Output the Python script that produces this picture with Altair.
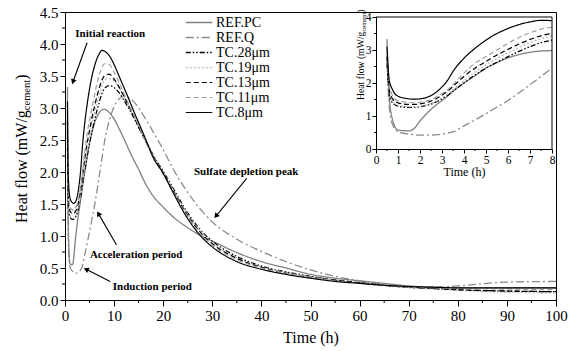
import math
import altair as alt
import pandas as pd

# ---------------- data ----------------
TIME = [0.5, 0.6, 0.75, 1, 1.5, 1.75, 2, 2.5, 3, 3.25, 3.5, 4, 4.5, 5, 5.5, 6, 6.5, 7, 7.5, 8,
        9, 10, 11, 12, 13, 14, 15, 16.5, 18, 20, 22, 25, 28, 30, 35, 40, 45, 50, 55, 60,
        65, 70, 75, 80, 90, 100]

REF_PC = [3.33, 1.6, 0.9, 0.57, 0.55, 0.63, 0.85, 1.2, 1.47, 1.6, 1.75, 2.0, 2.22, 2.45, 2.62, 2.76, 2.86, 2.93, 2.97, 2.98,
          2.93, 2.83, 2.68, 2.52, 2.35, 2.19, 2.04, 1.8, 1.62, 1.45, 1.3, 1.13, 0.99, 0.92, 0.74, 0.6, 0.5, 0.4, 0.34, 0.3,
          0.26, 0.22, 0.2, 0.19, 0.19, 0.19]
REF_Q = [2.8, 1.3, 0.75, 0.52, 0.45, 0.43, 0.42, 0.42, 0.45, 0.48, 0.52, 0.7, 0.88, 1.07, 1.27, 1.47, 1.7, 1.95, 2.2, 2.45,
         2.8, 3.02, 3.14, 3.18, 3.16, 3.1, 3.0, 2.82, 2.62, 2.35, 2.05, 1.68, 1.38, 1.22, 0.95, 0.76, 0.6, 0.47, 0.37, 0.3,
         0.25, 0.21, 0.2, 0.22, 0.28, 0.29]
TC_28 = [2.6, 1.65, 1.4, 1.3, 1.26, 1.26, 1.28, 1.36, 1.52, 1.62, 1.75, 2.0, 2.24, 2.45, 2.63, 2.8, 2.96, 3.1, 3.22, 3.3,
         3.35, 3.32, 3.24, 3.12, 2.99, 2.85, 2.7, 2.48, 2.26, 2.01, 1.75, 1.36, 1.06, 0.92, 0.68, 0.53, 0.44, 0.37, 0.31, 0.27,
         0.23, 0.2, 0.18, 0.16, 0.14, 0.13]
TC_19 = [2.7, 1.7, 1.45, 1.33, 1.28, 1.28, 1.3, 1.38, 1.55, 1.66, 1.8, 2.08, 2.33, 2.55, 2.75, 2.92, 3.08, 3.22, 3.34, 3.43,
         3.46, 3.42, 3.32, 3.18, 3.03, 2.88, 2.72, 2.49, 2.26, 2.0, 1.73, 1.34, 1.04, 0.9, 0.66, 0.52, 0.43, 0.36, 0.31, 0.26,
         0.22, 0.19, 0.17, 0.15, 0.12, 0.11]
TC_13 = [2.8, 1.8, 1.52, 1.4, 1.35, 1.35, 1.37, 1.45, 1.63, 1.75, 1.9, 2.2, 2.45, 2.65, 2.85, 3.02, 3.18, 3.32, 3.43, 3.5,
         3.53, 3.45, 3.33, 3.18, 3.03, 2.87, 2.7, 2.47, 2.24, 1.98, 1.71, 1.32, 1.02, 0.88, 0.65, 0.51, 0.42, 0.36, 0.31, 0.27,
         0.23, 0.2, 0.18, 0.16, 0.14, 0.13]
TC_11 = [2.95, 1.95, 1.62, 1.46, 1.41, 1.4, 1.42, 1.5, 1.68, 1.79, 1.95, 2.3, 2.6, 2.8, 3.0, 3.2, 3.38, 3.52, 3.63, 3.69,
         3.68, 3.56, 3.4, 3.23, 3.06, 2.89, 2.72, 2.47, 2.23, 1.97, 1.7, 1.3, 1.0, 0.86, 0.63, 0.5, 0.42, 0.36, 0.3, 0.26,
         0.23, 0.2, 0.19, 0.18, 0.17, 0.16]
TC_8 = [3.1, 2.1, 1.8, 1.6, 1.52, 1.51, 1.52, 1.62, 1.88, 2.08, 2.35, 2.75, 3.05, 3.3, 3.5, 3.65, 3.77, 3.85, 3.9, 3.89,
        3.82, 3.68, 3.5, 3.32, 3.14, 2.95, 2.77, 2.5, 2.22, 1.98, 1.68, 1.27, 0.97, 0.83, 0.6, 0.48, 0.4, 0.34, 0.29, 0.26,
        0.23, 0.21, 0.2, 0.19, 0.19, 0.19]

SERIES = ["REF.PC", "REF.Q", "TC.28μm", "TC.19μm", "TC.13μm", "TC.11μm", "TC.8μm"]
VALUES = [REF_PC, REF_Q, TC_28, TC_19, TC_13, TC_11, TC_8]

X_MAJOR = list(range(0, 101, 10))
X_MINOR = list(range(5, 100, 10))
Y_MAJOR = [i * 0.5 for i in range(10)]
Y_MINOR = [0.25 + i * 0.5 for i in range(9)]
IX_MAJOR = list(range(0, 9))
IX_MINOR = [0.5 + i for i in range(8)]
IY_MAJOR = list(range(0, 5))
IY_MINOR = [0.5 + i for i in range(4)]

ANN_TEXT = ["Initial reaction", "Sulfate depletion peak", "Acceleration period", "Induction period"]
ANN_T = [9.2, 36.9, 14.5, 17.8]
ANN_V = [4.16, 2.0, 0.70, 0.21]
ARROW_T0 = [4.5, 37.0, 10.5, 9.2]
ARROW_V0 = [4.02, 1.90, 0.86, 0.29]
ARROW_T1 = [1.63, 30.75, 6.8, 4.3]
ARROW_V1 = [3.41, 1.31, 1.35, 0.48]

# ---------------- style ----------------
COLORS = ["#808080", "#8a8a8a", "#000000", "#b8b8b8", "#000000", "#a0a0a0", "#000000"]
DASHES = [[1, 0], [8, 3, 2, 3], [5, 2, 1.5, 2, 1.5, 2], [2, 2], [5, 3], [5, 3], [1, 0]]
WIDTHS = [1.3, 1.2, 1.3, 1.4, 1.4, 1.3, 1.6]
FONT = "Liberation Serif"
W, H = 491, 288
IX0, IX1, IY0, IY1 = 311, 487, 137, 5   # inset pixel range inside plot area

rows = []
for name, vals in zip(SERIES, VALUES):
    for t, v in zip(TIME, vals):
        rows.append({"t": t, "v": v, "series": name})
df = pd.DataFrame(rows)
df_in = df[df["t"] <= 8].copy()

legend = alt.Legend(title=None, orient="none", legendX=120, legendY=3, symbolType="stroke",
                    symbolSize=700, symbolStrokeWidth=1.4, clipHeight=15, rowPadding=0,
                    labelFont=FONT, labelFontSize=14, labelColor="black", labelOffset=3, padding=0)
color = alt.Color("series:N", scale=alt.Scale(domain=SERIES, range=COLORS), legend=legend)
dash = alt.StrokeDash("series:N", scale=alt.Scale(domain=SERIES, range=DASHES), legend=legend)
swidth = alt.StrokeWidth("series:N", scale=alt.Scale(domain=SERIES, range=WIDTHS), legend=None)

common_axis = dict(grid=False, domainColor="black", tickColor="black", labelColor="black",
                   titleColor="black", labelFont=FONT, titleFont=FONT, titleFontWeight=400,
                   labelFlush=False, labelOverlap=False)

MXS = dict(domain=[0, 100], nice=False, zero=False)
MYS = dict(domain=[0, 4.5], nice=False, zero=False)
IXS = dict(domain=[0, 8], range=[IX0, IX1], nice=False, zero=False)
IYS = dict(domain=[0, 4], range=[IY0, IY1], nice=False, zero=False)


def X(f, s, axis=None):
    return alt.X(f, scale=alt.Scale(**s), axis=axis)


def Y(f, s, axis=None):
    return alt.Y(f, scale=alt.Scale(**s), axis=axis)


main_xaxis = alt.Axis(values=X_MAJOR, tickSize=6, title="Time (h)", titleFontSize=16,
                      titlePadding=6, labelFontSize=15, labelPadding=2, **common_axis)
main_yaxis = alt.Axis(values=Y_MAJOR, format=".1f", tickSize=5, title=None,
                      labelFontSize=15, labelPadding=2, **common_axis)

lines = alt.Chart(df).mark_line(clip=True, interpolate="monotone").encode(
    x=X("t:Q", MXS, main_xaxis), y=Y("v:Q", MYS, main_yaxis),
    color=color, strokeDash=dash, strokeWidth=swidth, detail="series:N")

# minor ticks (through the main scales)
mx = alt.Chart(pd.DataFrame({"t": X_MINOR})).mark_rule(color="black", strokeWidth=1).encode(
    x=X("t:Q", MXS), y=alt.value(H), y2=alt.value(H + 3))
my = alt.Chart(pd.DataFrame({"v": Y_MINOR})).mark_rule(color="black", strokeWidth=1).encode(
    y=Y("v:Q", MYS), x=alt.value(0), x2=alt.value(-3))

ann_df = pd.DataFrame({"t": ANN_T, "v": ANN_V, "label": ANN_TEXT})
ann = alt.Chart(ann_df).mark_text(font=FONT, fontSize=11, fontWeight="bold", color="black",
                                  baseline="middle", align="center").encode(
    x=X("t:Q", MXS), y=Y("v:Q", MYS), text="label:N")

# arrow angles in screen space
PX_T = W / 100.0
PX_V = H / 4.5
angles = []
for t0, v0, t1, v1 in zip(ARROW_T0, ARROW_V0, ARROW_T1, ARROW_V1):
    dx = (t1 - t0) * PX_T
    dy = -(v1 - v0) * PX_V
    angles.append(math.degrees(math.atan2(dx, -dy)) % 360)
arr_df = pd.DataFrame({"t0": ARROW_T0, "v0": ARROW_V0, "t1": ARROW_T1, "v1": ARROW_V1, "ang": angles})
arrows = alt.Chart(arr_df).mark_rule(color="black", strokeWidth=1.1).encode(
    x=X("t0:Q", MXS), y=Y("v0:Q", MYS), x2="t1:Q", y2="v1:Q")
heads = alt.Chart(arr_df).mark_point(shape="triangle-up", filled=True, color="black", size=34, opacity=1).encode(
    x=X("t1:Q", MXS), y=Y("v1:Q", MYS), angle=alt.Angle("ang:Q", scale=None))

# ---- y titles with subscript ----
TW = {"H": .722, "e": .444, "a": .444, "t": .278, " ": .25, "f": .333, "l": .278, "o": .5, "w": .722,
      "(": .333, "m": .778, "W": .944, "/": .278, "g": .5, "c": .444, "n": .5, ")": .333}


def tw(s, size):
    return sum(TW.get(ch, 0.5) for ch in s) * size


def ytitle(x0, y0, big, small):
    p1, p2, p3 = "Heat flow (mW/g", "cement", ")"
    ya = y0
    yb = ya - tw(p1, big)
    yc = yb - tw(p2, small)
    d = pd.DataFrame({"txt": [p1, p2, p3], "px": [x0, x0 + big * 0.2, x0], "py": [ya, yb, yc],
                      "fs": [big, small, big]})
    return alt.Chart(d).mark_text(font=FONT, angle=270, align="left", baseline="alphabetic",
                                  color="black").encode(
        x=alt.X("px:Q", scale=None, axis=None), y=alt.Y("py:Q", scale=None, axis=None),
        text="txt:N", size=alt.Size("fs:Q", scale=None, legend=None))


main_title = ytitle(-38, 211, 16, 10.5)
inset_title = ytitle(299, 88, 9.7, 6.5)

# ---------------- inset ----------------
inset_xaxis = alt.Axis(orient="bottom", offset=-(H - IY0), values=IX_MAJOR, tickSize=4,
                       title="Time (h)", titleFontSize=12, titlePadding=1, labelFontSize=11.5,
                       labelPadding=1, **common_axis)
inset_yaxis = alt.Axis(orient="left", offset=-IX0, values=IY_MAJOR, tickSize=4,
                       title=None, labelFontSize=11.5, labelPadding=1, **common_axis)

inset_lines = alt.Chart(df_in).mark_line(clip=False, interpolate="monotone").encode(
    x=X("t:Q", IXS, inset_xaxis), y=Y("v:Q", IYS, inset_yaxis),
    color=color, strokeDash=dash, strokeWidth=swidth, detail="series:N")

frame_df = pd.DataFrame({"a": [0, 8], "b": [8, 8], "c": [4, 0], "d": [4, 4]})
inset_frame = alt.Chart(frame_df).mark_rule(color="black", strokeWidth=1).encode(
    x=X("a:Q", IXS), x2="b:Q", y=Y("c:Q", IYS), y2="d:Q")
imx = alt.Chart(pd.DataFrame({"t": IX_MINOR})).mark_rule(color="black", strokeWidth=1).encode(
    x=X("t:Q", IXS), y=alt.value(IY0), y2=alt.value(IY0 + 2))
imy = alt.Chart(pd.DataFrame({"v": IY_MINOR})).mark_rule(color="black", strokeWidth=1).encode(
    y=Y("v:Q", IYS), x=alt.value(IX0), x2=alt.value(IX0 - 2))

chart = alt.layer(lines, inset_lines, mx, my, ann, arrows, heads, main_title, inset_title,
                  inset_frame, imx, imy).resolve_scale(x="independent", y="independent").properties(
    width=W, height=H, autosize=alt.AutoSizeParams(type="none"),
    padding={"left": 65, "top": 12, "right": 25, "bottom": 51}, background="white"
).configure_view(stroke="black", strokeWidth=1)

chart.save("out.html", embed_options={"renderer": "svg", "actions": False})
